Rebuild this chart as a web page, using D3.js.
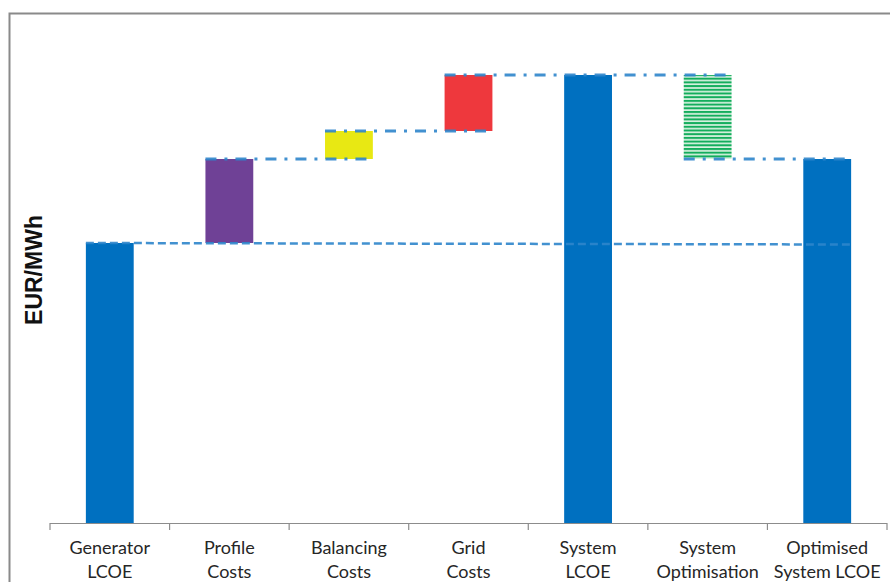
<!DOCTYPE html>
<html>
<head>
<meta charset="utf-8">
<script src="https://cdn.jsdelivr.net/npm/d3@7"></script>
<style>
  html, body { margin: 0; padding: 0; background: #fff; }
  svg { display: block; }
</style>
</head>
<body>
<svg id="chart" width="890" height="582"></svg>
<script>
// Waterfall of system LCOE components (EUR/MWh)
const categories = [
  ["Generator", "LCOE"],
  ["Profile", "Costs"],
  ["Balancing", "Costs"],
  ["Grid", "Costs"],
  ["System", "LCOE"],
  ["System", "Optimisation"],
  ["Optimised", "System LCOE"]
];
const values  = [100, 30, 10, 20, 160, -30, 130];
const isTotal = [true, false, false, false, true, false, true];

// dash-dot connectors: from the left edge of one bar to the right edge of another
const connectorFrom = [1, 2, 3, 5];
const connectorTo   = [2, 3, 5, 6];

const fills = ["#0070c0", "#6f4196", "#e8e813", "#ee383d", "#0070c0", "url(#stripes)", "#0070c0"];

const svg = d3.select("#chart");
const W = 890, H = 582;
const plot = { left: 50, right: 887, top: 75, bottom: 523 };

// outer frame
svg.append("rect")
  .attr("x", 9.5).attr("y", 13.5)
  .attr("width", W + 20).attr("height", H + 20)
  .attr("fill", "none").attr("stroke", "#8a8a8a").attr("stroke-width", 2);

// striped fill for the optimisation step
const defs = svg.append("defs");
const pat = defs.append("pattern")
  .attr("id", "stripes").attr("patternUnits", "userSpaceOnUse")
  .attr("width", 8).attr("height", 3.7);
pat.append("rect").attr("width", 8).attr("height", 3.7).attr("fill", "#d9f2e1");
pat.append("rect").attr("width", 8).attr("height", 2).attr("fill", "#13ad5c");

// running totals for the waterfall
let running = 0;
const bars = values.map((v, i) => {
  let lo, hi;
  if (isTotal[i]) { lo = 0; hi = v; running = v; }
  else { const prev = running; running += v; lo = Math.min(prev, running); hi = Math.max(prev, running); }
  return { i, lo, hi, end: running };
});

const x = d3.scaleBand()
  .domain(d3.range(categories.length))
  .range([plot.left, plot.right])
  .paddingInner(0.6).paddingOuter(0.3);
const step = x.step();

const y = d3.scaleLinear().domain([0, 160]).range([plot.bottom, plot.top]);

// bars
svg.append("g").selectAll("rect").data(bars).join("rect")
  .attr("x", d => x(d.i))
  .attr("width", x.bandwidth())
  .attr("y", d => y(d.hi))
  .attr("height", d => y(d.lo) - y(d.hi))
  .attr("fill", (d, i) => fills[i]);

// category axis
const axisG = svg.append("g");
axisG.append("line")
  .attr("x1", plot.left).attr("x2", plot.right)
  .attr("y1", plot.bottom + 0.5).attr("y2", plot.bottom + 0.5)
  .attr("stroke", "#8c8c8c").attr("stroke-width", 1.2);
axisG.selectAll("line.tick").data(d3.range(categories.length + 1)).join("line")
  .attr("class", "tick")
  .attr("x1", i => plot.left + i * step).attr("x2", i => plot.left + i * step)
  .attr("y1", plot.bottom).attr("y2", plot.bottom + 7)
  .attr("stroke", "#8c8c8c").attr("stroke-width", 1.2);

const labels = axisG.selectAll("text").data(categories).join("text")
  .attr("x", (d, i) => x(i) + x.bandwidth() / 2)
  .attr("text-anchor", "middle")
  .attr("font-family", "Lato, 'Open Sans', sans-serif")
  .attr("font-size", 18)
  .attr("fill", "#262626");
labels.each(function(d) {
  const t = d3.select(this);
  d.forEach((line, k) => {
    t.append("tspan")
      .attr("x", t.attr("x"))
      .attr("y", 554 + k * 24)
      .text(line);
  });
});

// y-axis title
svg.append("text")
  .attr("transform", "translate(42,270) rotate(-90)")
  .attr("text-anchor", "middle")
  .attr("font-family", "'Liberation Sans', Arial, sans-serif")
  .attr("font-weight", "bold")
  .attr("font-size", 23)
  .attr("fill", "#111")
  .text("EUR/MWh");

// dashed reference line at the generator LCOE level
const lineColor = "#2e86cc";
svg.append("line")
  .attr("x1", x(0)).attr("x2", x(6) + x.bandwidth())
  .attr("y1", y(values[0])).attr("y2", y(values[0]) + 1.5)
  .attr("stroke", lineColor).attr("stroke-width", 2.5)
  .attr("stroke-dasharray", "8,4").attr("opacity", 0.9);

// dash-dot step connectors
svg.append("g").selectAll("line").data(connectorFrom).join("line")
  .attr("x1", i => x(i))
  .attr("x2", (i, k) => x(connectorTo[k]) + x.bandwidth())
  .attr("y1", i => y(bars[i].end))
  .attr("y2", i => y(bars[i].end))
  .attr("stroke", lineColor).attr("stroke-width", 3)
  .attr("stroke-dasharray", "11,8,3,8").attr("opacity", 0.9);
</script>
</body>
</html>
